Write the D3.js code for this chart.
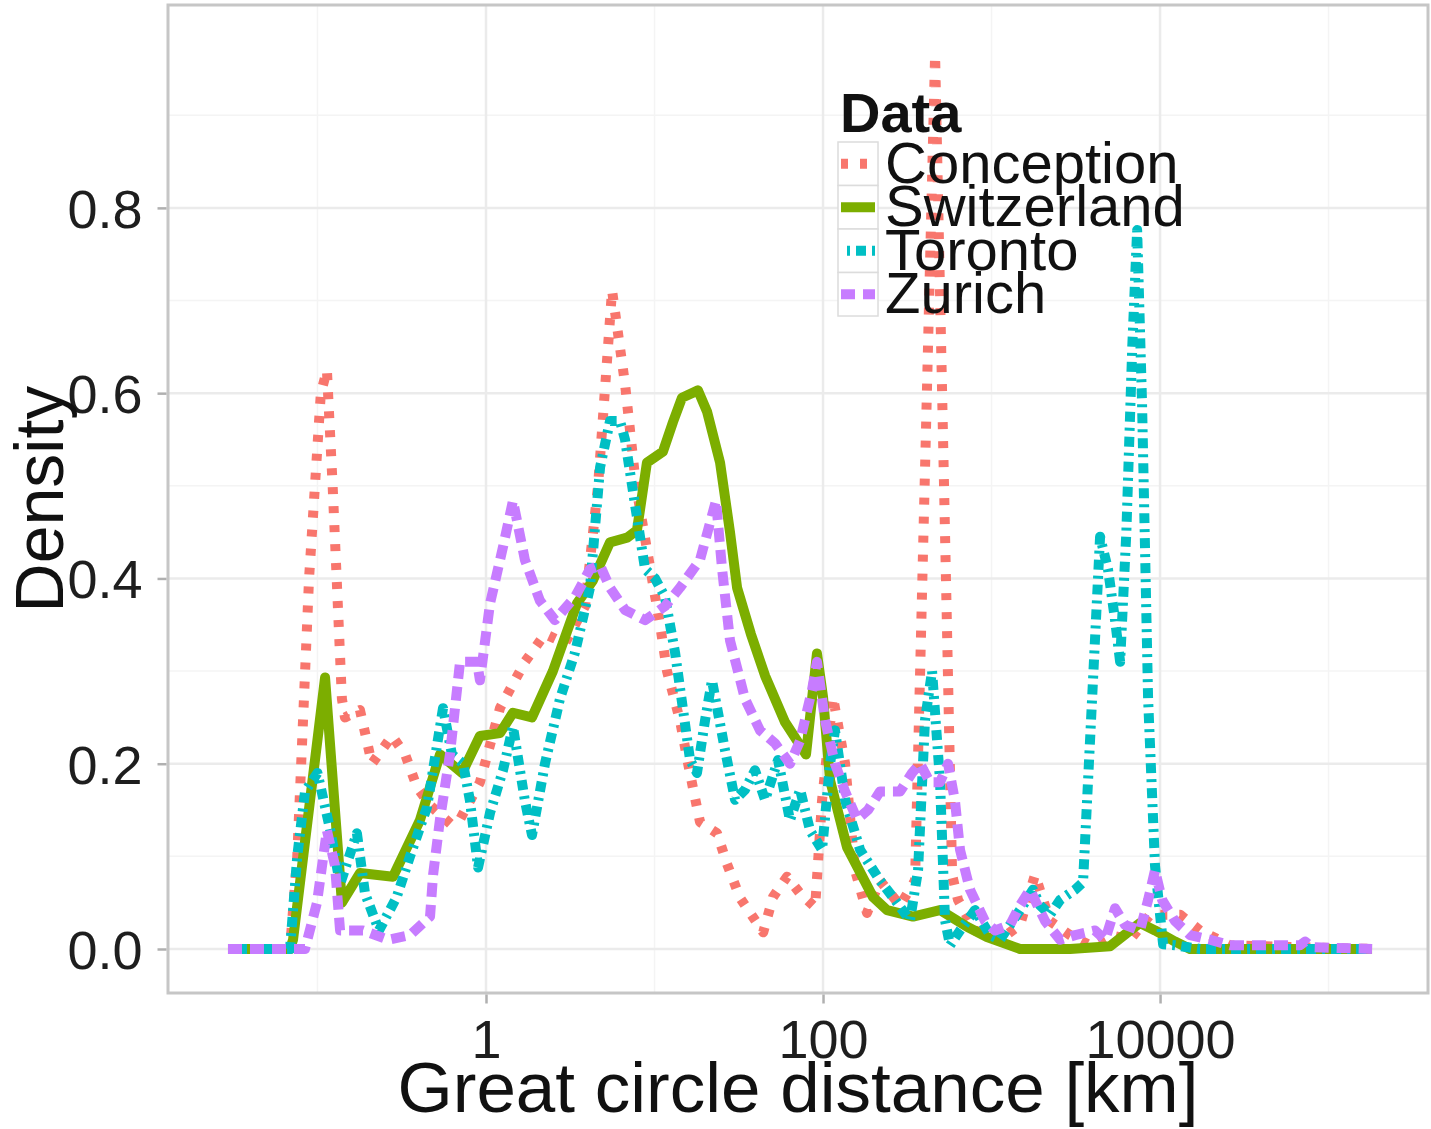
<!DOCTYPE html>
<html>
<head>
<meta charset="utf-8">
<script src="https://cdn.jsdelivr.net/npm/d3@7"></script>
<style>
  body { margin: 0; background: #fff; }
  text { font-family: "Liberation Sans", Arial, Helvetica, sans-serif; }
</style>
</head>
<body>
<div id="chart"></div>
<script>
// values: [log10 distance in km, density]
const conception = [
  [-1.531, 0], [-1.163, 0], [-1.12, 0.1], [-1.05, 0.4], [-0.98, 0.6], [-0.944, 0.625],
  [-0.91, 0.5], [-0.855, 0.27], [-0.837, 0.25], [-0.748, 0.258], [-0.677, 0.2],
  [-0.558, 0.23], [-0.48, 0.21], [-0.41, 0.175], [-0.332, 0.155], [-0.21, 0.135],
  [-0.154, 0.14], [-0.036, 0.18], [0.083, 0.26], [0.231, 0.31], [0.350, 0.34],
  [0.469, 0.33], [0.588, 0.37], [0.665, 0.5], [0.748, 0.711], [0.825, 0.61],
  [0.890, 0.50], [0.985, 0.40], [1.033, 0.35], [1.074, 0.30], [1.151, 0.247],
  [1.193, 0.206], [1.228, 0.174], [1.270, 0.137], [1.371, 0.125], [1.430, 0.092],
  [1.508, 0.055], [1.645, 0.018], [1.703, 0.056], [1.786, 0.078], [1.864, 0.06],
  [1.953, 0.045], [1.994, 0.16], [2.059, 0.272], [2.131, 0.20], [2.190, 0.085],
  [2.261, 0.039], [2.338, 0.074], [2.457, 0.047], [2.546, 0.074], [2.665, 0.965],
  [2.766, 0.08], [2.801, 0.053], [2.902, 0.02], [3.050, 0.01], [3.169, 0.026],
  [3.258, 0.08], [3.347, 0.03], [3.466, 0.015], [3.585, 0.004], [3.703, 0.015],
  [3.822, 0.01], [3.941, 0.037], [4.119, 0.037], [4.237, 0.02], [4.415, 0.004],
  [5.258, 0]
];

const switzerland = [
  [-1.531, 0], [-1.163, 0], [-1.145, 0.01], [-0.955, 0.293], [-0.855, 0.050],
  [-0.748, 0.082], [-0.552, 0.078], [-0.392, 0.139], [-0.273, 0.21], [-0.142, 0.19],
  [-0.036, 0.23], [0.083, 0.233], [0.160, 0.255], [0.273, 0.25], [0.397, 0.30],
  [0.540, 0.373], [0.635, 0.398], [0.736, 0.439], [0.837, 0.444], [0.896, 0.452],
  [0.955, 0.525], [1.050, 0.537], [1.110, 0.569], [1.163, 0.595], [1.258, 0.603],
  [1.312, 0.58], [1.389, 0.525], [1.448, 0.45], [1.490, 0.39], [1.572, 0.34],
  [1.656, 0.295], [1.774, 0.245], [1.899, 0.21], [1.964, 0.319], [2.000, 0.272],
  [2.042, 0.182], [2.142, 0.110], [2.297, 0.056], [2.380, 0.042], [2.534, 0.035],
  [2.694, 0.042], [2.855, 0.024], [2.973, 0.013], [3.169, 0], [3.466, 0],
  [3.703, 0.003], [3.822, 0.02], [3.881, 0.028], [3.970, 0.02], [4.089, 0.008],
  [4.178, 0], [5.258, 0]
];

const toronto = [
  [-1.531, 0], [-1.163, 0], [-1.12, 0.1], [-1.074, 0.17], [-1.0, 0.19],
  [-0.926, 0.13], [-0.866, 0.07], [-0.766, 0.125], [-0.718, 0.06], [-0.635, 0.02],
  [-0.53, 0.056], [-0.451, 0.1], [-0.35, 0.153], [-0.255, 0.26], [-0.202, 0.21],
  [-0.136, 0.2], [-0.095, 0.16], [-0.047, 0.088], [0.024, 0.147], [0.101, 0.193],
  [0.160, 0.24], [0.231, 0.16], [0.273, 0.123], [0.350, 0.2], [0.439, 0.27],
  [0.528, 0.32], [0.617, 0.39], [0.677, 0.52], [0.736, 0.57], [0.795, 0.57],
  [0.825, 0.55], [0.884, 0.48], [0.944, 0.41], [1.003, 0.40], [1.062, 0.38],
  [1.122, 0.32], [1.211, 0.204], [1.252, 0.19], [1.300, 0.247], [1.341, 0.29],
  [1.418, 0.215], [1.478, 0.161], [1.537, 0.172], [1.596, 0.193], [1.656, 0.161],
  [1.733, 0.204], [1.804, 0.139], [1.864, 0.172], [1.923, 0.128], [1.994, 0.107],
  [2.042, 0.20], [2.071, 0.236], [2.131, 0.161], [2.220, 0.107], [2.338, 0.074],
  [2.427, 0.053], [2.516, 0.031], [2.564, 0.085], [2.605, 0.247], [2.647, 0.30],
  [2.694, 0.182], [2.724, 0.031], [2.754, 0.004], [2.813, 0.02], [2.902, 0.042],
  [2.991, 0.015], [3.050, 0.01], [3.169, 0.042], [3.246, 0.064], [3.288, 0.047],
  [3.347, 0.037], [3.407, 0.053], [3.496, 0.064], [3.543, 0.072], [3.644, 0.445],
  [3.691, 0.41], [3.733, 0.355], [3.763, 0.31], [3.800, 0.45], [3.835, 0.65],
  [3.864, 0.776], [3.893, 0.59], [3.929, 0.27], [3.970, 0.09], [4.018, 0.005],
  [4.089, 0.004], [4.237, 0], [5.258, 0]
];

const zurich = [
  [-1.531, 0], [-1.074, 0], [-1.003, 0.05], [-0.944, 0.128], [-0.896, 0.09],
  [-0.866, 0.02], [-0.73, 0.02], [-0.58, 0.01], [-0.451, 0.015], [-0.332, 0.035],
  [-0.314, 0.08], [-0.273, 0.14], [-0.214, 0.21], [-0.154, 0.31], [-0.053, 0.31],
  [-0.036, 0.29], [0.024, 0.373], [0.101, 0.434], [0.160, 0.484], [0.231, 0.42],
  [0.320, 0.376], [0.409, 0.355], [0.528, 0.38], [0.617, 0.41], [0.677, 0.414],
  [0.736, 0.39], [0.825, 0.366], [0.944, 0.355], [1.062, 0.37], [1.151, 0.39],
  [1.270, 0.42], [1.365, 0.484], [1.401, 0.41], [1.448, 0.333], [1.537, 0.27],
  [1.626, 0.236], [1.715, 0.222], [1.804, 0.2], [1.864, 0.225], [1.935, 0.28],
  [1.964, 0.31], [2.012, 0.247], [2.071, 0.2], [2.131, 0.17], [2.202, 0.14],
  [2.267, 0.15], [2.338, 0.17], [2.457, 0.17], [2.528, 0.19], [2.576, 0.2],
  [2.635, 0.18], [2.694, 0.18], [2.742, 0.2], [2.783, 0.16], [2.813, 0.107],
  [2.872, 0.064], [2.961, 0.03], [3.021, 0.02], [3.110, 0.026], [3.169, 0.047],
  [3.228, 0.064], [3.318, 0.03], [3.407, 0.01], [3.496, 0.015], [3.614, 0.02],
  [3.674, 0.01], [3.733, 0.044], [3.792, 0.026], [3.881, 0.02], [3.929, 0.053],
  [3.970, 0.085], [4.012, 0.053], [4.089, 0.03], [4.178, 0.015], [4.297, 0.01],
  [4.415, 0.004], [4.831, 0.004], [4.861, 0.008], [4.90, 0.002], [5.258, 0]
];

const seriesNames  = ['Conception', 'Switzerland', 'Toronto', 'Zurich'];
const seriesValues = [conception, switzerland, toronto, zurich];
const xBreaks = [1, 100, 10000];
const xMinorBreaks = [0.1, 10, 1000, 100000];
const yBreaks = [0, 0.2, 0.4, 0.6, 0.8];
const yMinorBreaks = [0.1, 0.3, 0.5, 0.7, 0.9];

// styles (ggplot default hues + linetypes)
const colors = ['#F8766D', '#7CAE00', '#00BFC4', '#C77CFF'];
const dashes = ['7 12', null, '3 6 10 6', '14 8'];
const lineWidth = 10;

const width = 1431, height = 1129;
const panel = { left: 168, right: 1428, top: 5, bottom: 993 };

const svg = d3.select('#chart')
  .append('svg')
    .attr('width', width)
    .attr('height', height);

const x = d3.scaleLog()
  .domain([Math.pow(10, -1.887), Math.pow(10, 5.59)])
  .range([panel.left, panel.right]);

const y = d3.scaleLinear()
  .domain([-0.0475, 1.019])
  .range([panel.bottom, panel.top]);

// panel background
svg.append('rect')
  .attr('x', panel.left).attr('y', panel.top)
  .attr('width', panel.right - panel.left)
  .attr('height', panel.bottom - panel.top)
  .attr('fill', '#fff');

// grid: minor first, then major
const grid = svg.append('g');
grid.append('g').selectAll('line').data(xMinorBreaks).join('line')
  .attr('x1', d => x(d)).attr('x2', d => x(d))
  .attr('y1', panel.top).attr('y2', panel.bottom)
  .attr('stroke', '#f4f4f4').attr('stroke-width', 1.5);
grid.append('g').selectAll('line').data(yMinorBreaks).join('line')
  .attr('y1', d => y(d)).attr('y2', d => y(d))
  .attr('x1', panel.left).attr('x2', panel.right)
  .attr('stroke', '#f4f4f4').attr('stroke-width', 1.5);
grid.append('g').selectAll('line').data(xBreaks).join('line')
  .attr('x1', d => x(d)).attr('x2', d => x(d))
  .attr('y1', panel.top).attr('y2', panel.bottom)
  .attr('stroke', '#ebebeb').attr('stroke-width', 2.5);
grid.append('g').selectAll('line').data(yBreaks).join('line')
  .attr('y1', d => y(d)).attr('y2', d => y(d))
  .attr('x1', panel.left).attr('x2', panel.right)
  .attr('stroke', '#ebebeb').attr('stroke-width', 2.5);

// density lines
const line = d3.line()
  .x(d => x(Math.pow(10, d[0])))
  .y(d => y(d[1]));

svg.append('g')
  .selectAll('path')
  .data(seriesValues)
  .join('path')
    .attr('d', line)
    .attr('fill', 'none')
    .attr('stroke', (d, i) => colors[i])
    .attr('stroke-width', lineWidth)
    .attr('stroke-linejoin', 'round')
    .attr('stroke-linecap', 'butt')
    .attr('stroke-dasharray', (d, i) => dashes[i]);

// panel border
svg.append('rect')
  .attr('x', panel.left).attr('y', panel.top)
  .attr('width', panel.right - panel.left)
  .attr('height', panel.bottom - panel.top)
  .attr('fill', 'none')
  .attr('stroke', '#c6c6c6')
  .attr('stroke-width', 3);

// axes
const xAxis = svg.append('g')
  .attr('transform', `translate(0,${panel.bottom + 1.5})`)
  .call(d3.axisBottom(x).tickValues(xBreaks).tickFormat(d3.format('d')).tickSize(9).tickPadding(12));
const yAxis = svg.append('g')
  .attr('transform', `translate(${panel.left - 1.5},0)`)
  .call(d3.axisLeft(y).tickValues(yBreaks).tickFormat(d3.format('.1f')).tickSize(9).tickPadding(15));

[xAxis, yAxis].forEach(a => {
  a.select('.domain').remove();
  a.selectAll('.tick line').attr('stroke', '#b0b0b0').attr('stroke-width', 2.5);
  a.selectAll('.tick text')
    .attr('fill', '#1e1e1e')
    .style('font-size', '54px')
    .style('font-family', '"Liberation Sans", Arial, sans-serif');
});
xAxis.selectAll('.tick text').attr('dy', null).attr('y', 63);
yAxis.selectAll('.tick text').attr('dy', '0.36em');

// axis titles
svg.append('text')
  .attr('x', (panel.left + panel.right) / 2)
  .attr('y', 1112)
  .attr('text-anchor', 'middle')
  .attr('fill', '#111')
  .style('font-size', '71px')
  .text('Great circle distance [km]');

svg.append('text')
  .attr('transform', `translate(63,${(panel.top + panel.bottom) / 2}) rotate(-90)`)
  .attr('text-anchor', 'middle')
  .attr('fill', '#111')
  .style('font-size', '68px')
  .text('Density');

// legend (no background, keys with light border)
const legend = svg.append('g').attr('transform', 'translate(838,142)');
legend.append('text')
  .attr('x', 2).attr('y', -10)
  .attr('fill', '#111')
  .style('font-size', '56px')
  .style('font-weight', 'bold')
  .text('Data');

const keyH = 43.5, keyW = 40;
const keys = legend.selectAll('.key')
  .data(seriesNames)
  .join('g')
    .attr('transform', (d, i) => `translate(0,${i * keyH})`);

keys.append('rect')
  .attr('width', keyW).attr('height', keyH)
  .attr('fill', '#fff')
  .attr('stroke', '#dcdcdc')
  .attr('stroke-width', 1.5);

keys.append('line')
  .attr('x1', 3).attr('x2', keyW - 3)
  .attr('y1', keyH / 2).attr('y2', keyH / 2)
  .attr('stroke', (d, i) => colors[i])
  .attr('stroke-width', lineWidth)
  .attr('stroke-dasharray', (d, i) => dashes[i])
  .attr('stroke-dashoffset', (d, i) => i === 2 ? -6 : 0);

keys.append('text')
  .attr('x', 47).attr('y', keyH / 2 + 19)
  .attr('fill', '#111')
  .style('font-size', '58px')
  .text(d => d);
</script>
</body>
</html>
